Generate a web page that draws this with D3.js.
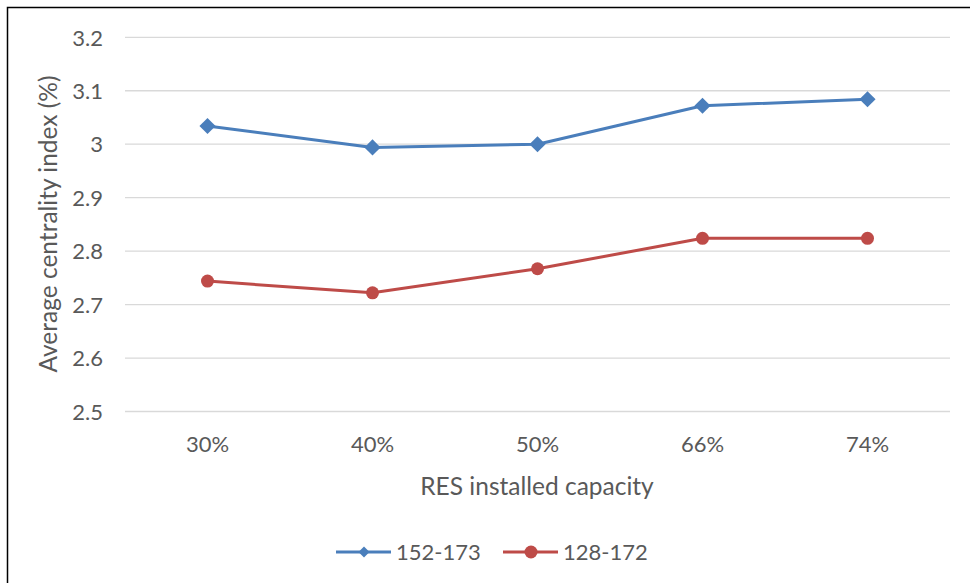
<!DOCTYPE html>
<html>
<head>
<meta charset="utf-8">
<script src="https://cdn.jsdelivr.net/npm/d3@7"></script>
<style>
html,body{margin:0;padding:0;background:#fff;}
svg{display:block;}
text{font-family:Lato,"Open Sans",sans-serif;fill:#595959;}
</style>
</head>
<body>
<svg id="chart" width="970" height="583"></svg>
<script>
const categories = ["30%", "40%", "50%", "66%", "74%"];
const seriesNames = ["152-173", "128-172"];
const series1 = [3.034, 2.994, 3.0, 3.072, 3.084];
const series2 = [2.744, 2.722, 2.767, 2.824, 2.824];
const yTicks = [2.5, 2.6, 2.7, 2.8, 2.9, 3.0, 3.1, 3.2];
const colors = ["#4a7ebb", "#be4b48"];

const svg = d3.select("#chart");
const x = d3.scaleBand().domain(categories).range([125, 950]);
const y = d3.scaleLinear().domain([2.5, 3.2]).range([411.5, 37.3]);

// outer border (top and left visible)
svg.append("rect").attr("x", 7.5).attr("y", 7.5).attr("width", 1000).attr("height", 1000)
  .attr("fill", "none").attr("stroke", "#000").attr("stroke-width", 1.5);

// gridlines
svg.append("g").selectAll("line").data(yTicks).join("line")
  .attr("x1", 125).attr("x2", 950)
  .attr("y1", d => y(d)).attr("y2", d => y(d))
  .attr("stroke", "#d9d9d9").attr("stroke-width", 1.3);

// y axis labels
const yAxis = d3.axisLeft(y).tickValues(yTicks).tickSize(0).tickPadding(0)
  .tickFormat(d => d3.format("")(+d.toFixed(1)));
const gy = svg.append("g").attr("transform", "translate(103,0)").call(yAxis);
gy.select(".domain").remove();
gy.selectAll("text").style("font-size", "22px").attr("fill", "#595959")
  .style("font-family", "Lato, 'Open Sans', sans-serif").attr("dy", "0.35em");

// x axis labels
const xAxis = d3.axisBottom(x).tickSize(0).tickPadding(0);
const gx = svg.append("g").attr("transform", "translate(0,444)").call(xAxis);
gx.select(".domain").remove();
gx.selectAll("text").style("font-size", "22px").attr("fill", "#595959")
  .style("font-family", "Lato, 'Open Sans', sans-serif").attr("dy", "0.35em");

// axis titles
svg.append("text").attr("x", 537).attr("y", 486).attr("dy", "0.35em").attr("text-anchor", "middle")
  .style("font-size", "24.5px").text("RES installed capacity");
svg.append("text").attr("transform", "translate(48,224) rotate(-90)").attr("dy", "0.35em")
  .attr("text-anchor", "middle")
  .style("font-size", "24.5px").text("Average centrality index (%)");

const cx = d => x(d) + x.bandwidth() / 2;
const line = d3.line().x((d, i) => cx(categories[i])).y(d => y(d));

// series 1
svg.append("path").datum(series1).attr("d", line).attr("fill", "none")
  .attr("stroke", colors[0]).attr("stroke-width", 3).attr("stroke-linejoin", "round");
svg.append("g").selectAll("path").data(series1).join("path")
  .attr("d", d3.symbol().type(d3.symbolSquare).size(130))
  .attr("transform", (d, i) => `translate(${cx(categories[i])},${y(d)}) rotate(45)`)
  .attr("fill", colors[0]);

// series 2
svg.append("path").datum(series2).attr("d", line).attr("fill", "none")
  .attr("stroke", colors[1]).attr("stroke-width", 3).attr("stroke-linejoin", "round");
svg.append("g").selectAll("circle").data(series2).join("circle")
  .attr("cx", (d, i) => cx(categories[i])).attr("cy", d => y(d)).attr("r", 6.5)
  .attr("fill", colors[1]);

// legend
const lg = svg.append("g");
const legendItems = [
  {name: seriesNames[0], color: colors[0], x0: 336, type: "diamond"},
  {name: seriesNames[1], color: colors[1], x0: 503, type: "circle"}
];
legendItems.forEach(it => {
  const g = lg.append("g").attr("transform", `translate(${it.x0},552)`);
  g.append("line").attr("x1", 0).attr("x2", 55).attr("y1", 0).attr("y2", 0)
    .attr("stroke", it.color).attr("stroke-width", 3);
  if (it.type === "diamond") {
    g.append("path").attr("d", d3.symbol().type(d3.symbolSquare).size(60)())
      .attr("transform", "translate(28,0) rotate(45)").attr("fill", it.color);
  } else {
    g.append("circle").attr("cx", 28).attr("cy", 0).attr("r", 6.5).attr("fill", it.color);
  }
  g.append("text").attr("x", 60).attr("y", 0).attr("dy", "0.35em")
    .style("font-size", "22px").text(it.name);
});
</script>
</body>
</html>
